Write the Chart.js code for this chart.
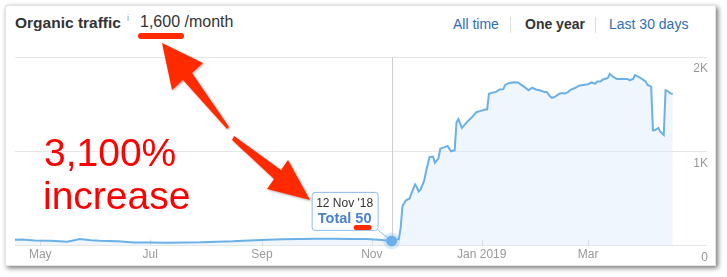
<!DOCTYPE html>
<html>
<head>
<meta charset="utf-8">
<script src="https://cdn.jsdelivr.net/npm/chart.js@4.4.1/dist/chart.umd.min.js"></script>
<style>
  body { margin: 0; width: 727px; height: 277px; background: #fff; overflow: hidden; position: relative;
         font-family: "Liberation Sans", Arial, Helvetica, sans-serif; }
  #card { position: absolute; left: 5px; top: 5px; width: 709px; height: 259px; background: #fff;
          border: 1px solid #e4e4e4; box-shadow: 2px 2px 5px rgba(0,0,0,.55); }
  #chart { position: absolute; left: 0; top: 0; }
  .hd { position: absolute; white-space: nowrap; color: #333; }
  .lnk { color: #2f6db5; font-size: 14px; }
  .sep { position: absolute; top: 17px; width: 1px; height: 16px; background: #ddd; }
  .big { position: absolute; color: #ff0000; font-size: 39px; line-height: 1; white-space: nowrap; }
  .mark { position: absolute; background: #ff2a00; border-radius: 3px; }
  svg { position: absolute; left: 0; top: 0; }
</style>
</head>
<body>
<div id="card"></div>

<div class="hd" style="left:15px;top:14px;font-size:15.5px;font-weight:bold;">Organic traffic</div>
<div class="hd" style="left:127px;top:13px;font-size:9px;color:#999;">i</div>
<div class="hd" style="left:140px;top:13px;font-size:16px;">1,600 /month</div>
<div class="mark" style="left:138px;top:33px;width:46px;height:6px;"></div>

<div class="hd lnk" style="left:453px;top:16px;">All time</div>
<div class="sep" style="left:510px;"></div>
<div class="hd" style="left:525px;top:16px;font-size:14px;font-weight:bold;">One year</div>
<div class="sep" style="left:595px;"></div>
<div class="hd lnk" style="left:609px;top:16px;">Last 30 days</div>

<canvas id="chart" width="727" height="277"></canvas>

<svg width="727" height="277">
  <defs>
    <filter id="sh" x="-20%" y="-20%" width="140%" height="140%">
      <feDropShadow dx="1" dy="1" stdDeviation="1" flood-color="#000" flood-opacity="0.35"/>
    </filter>
  </defs>
  <g fill="#ff2a00" filter="url(#sh)">
    <polygon points="162,43 203,63 192,73 229,127 227,129 183,80 172,90"/>
    <polygon points="310,200 288,160 281,170 234,136 232,140 274,179 267,189"/>
  </g>
</svg>

<div class="big" style="left:44px;top:133px;">3,100%</div>
<div class="big" style="left:43px;top:176px;">increase</div>

<script>
// Tagesdaten
const dates = [
  '2018-04-17','2018-04-21','2018-04-28','2018-05-07','2018-05-16','2018-05-23','2018-05-29',
  '2018-06-03','2018-06-13','2018-06-22','2018-07-01','2018-07-10','2018-07-20','2018-07-29',
  '2018-08-07','2018-08-16','2018-08-25','2018-09-04','2018-09-13','2018-09-22','2018-10-01',
  '2018-10-10','2018-10-20','2018-10-29','2018-11-05','2018-11-12','2018-11-16','2018-11-17',
  '2018-11-18','2018-11-20','2018-11-22','2018-11-23','2018-11-25','2018-11-26','2018-11-27',
  '2018-11-28','2018-11-30','2018-12-01','2018-12-03','2018-12-05','2018-12-06','2018-12-08',
  '2018-12-09','2018-12-11','2018-12-13','2018-12-15','2018-12-17','2018-12-18','2018-12-19',
  '2018-12-21','2018-12-22','2018-12-24','2018-12-25','2018-12-27','2018-12-29','2018-12-31',
  '2019-01-03','2019-01-04','2019-01-05','2019-01-07','2019-01-09','2019-01-11','2019-01-13',
  '2019-01-14','2019-01-16','2019-01-19','2019-01-21','2019-01-23','2019-01-25','2019-01-27',
  '2019-01-29','2019-01-31','2019-02-02','2019-02-05','2019-02-06','2019-02-08','2019-02-09',
  '2019-02-11','2019-02-13','2019-02-15','2019-02-16','2019-02-18','2019-02-19','2019-02-22',
  '2019-02-24','2019-02-26','2019-03-01','2019-03-03','2019-03-05','2019-03-06','2019-03-08',
  '2019-03-09','2019-03-12','2019-03-13','2019-03-15','2019-03-17','2019-03-20','2019-03-23',
  '2019-03-24','2019-03-26','2019-03-27','2019-03-29','2019-03-31','2019-04-01','2019-04-02',
  '2019-04-03','2019-04-05','2019-04-06','2019-04-07','2019-04-09','2019-04-10','2019-04-12',
  '2019-04-13','2019-04-14','2019-04-16','2019-04-17'
];
const traffic = [
  62, 65, 55, 52, 42, 70, 58,
  52, 45, 32, 32, 30, 32, 35,
  42, 46, 55, 62, 68, 70, 72,
  72, 70, 70, 62, 50, 70, 185,
  418, 481, 500, 555, 648, 618, 574,
  593, 685, 778, 937, 944, 878, 926,
  1026, 1041, 1056, 1000, 1011, 1307, 1341,
  1248, 1270, 1315, 1333, 1370, 1415, 1426,
  1444, 1444, 1611, 1622, 1630, 1656, 1659,
  1704, 1722, 1733, 1730, 1704, 1678, 1648,
  1674, 1656, 1648, 1630, 1630, 1582, 1567,
  1582, 1611, 1619, 1611, 1630, 1648, 1674,
  1696, 1704, 1711, 1730, 1715, 1741, 1741,
  1759, 1778, 1822, 1789, 1767, 1767, 1767,
  1752, 1767, 1807, 1789, 1767, 1752, 1741,
  1704, 1685, 1222, 1222, 1248, 1211, 1174,
  1648, 1641, 1611, 1611
];
const tickDates = ['2018-05-01', '2018-07-01', '2018-09-01', '2018-11-01', '2019-01-01', '2019-03-01'];
const tickLabels = ['May', 'Jul', 'Sep', 'Nov', 'Jan 2019', 'Mar'];
const yTicks = [0, 1000, 2000];
const yTickLabels = ['0', '1K', '2K'];
const xStart = '2018-04-17';
const xEnd = '2019-05-06';
const hoverDate = '2018-11-12';
const hoverLabel = "12 Nov '18";
const hoverValue = 50;

// Datum -> Tagnummer
function day(s) {
  const p = s.split('-');
  return Date.UTC(+p[0], +p[1] - 1, +p[2]) / 86400000;
}

const points = dates.map((d, i) => ({ x: day(d), y: traffic[i] }));
const lineBlue = '#6cb0e8';

// kleine Striche an den Monaten, crosshair und tooltip
const extras = {
  id: 'extras',
  beforeDatasetsDraw(chart) {
    const ctx = chart.ctx;
    const xs = chart.scales.x;
    const area = chart.chartArea;
    ctx.save();
    ctx.strokeStyle = '#d4d4d4';
    ctx.lineWidth = 1;
    tickDates.forEach(d => {
      const x = Math.round(xs.getPixelForValue(day(d))) + 0.5;
      ctx.beginPath();
      ctx.moveTo(x, area.bottom);
      ctx.lineTo(x, area.bottom - 6);
      ctx.stroke();
    });
    ctx.restore();
  },
  afterDatasetsDraw(chart) {
    const ctx = chart.ctx;
    const xs = chart.scales.x;
    const ys = chart.scales.y;
    const area = chart.chartArea;
    const px = xs.getPixelForValue(day(hoverDate));
    const py = ys.getPixelForValue(hoverValue);
    ctx.save();
    // crosshair
    ctx.strokeStyle = '#cfcfcf';
    ctx.lineWidth = 1;
    ctx.beginPath();
    ctx.moveTo(Math.round(px) + 0.5, area.top);
    ctx.lineTo(Math.round(px) + 0.5, area.bottom);
    ctx.stroke();

    // tooltip box
    const bw = 66, bh = 38;
    const bx = px - 14 - bw, by = py - 11 - bh;
    ctx.strokeStyle = '#8fbbea';
    ctx.beginPath();
    ctx.moveTo(bx + bw, by + bh);
    ctx.lineTo(px, py);
    ctx.stroke();

    ctx.fillStyle = '#fff';
    ctx.beginPath();
    ctx.roundRect(bx + 0.5, by + 0.5, bw, bh, 3);
    ctx.fill();
    ctx.stroke();

    ctx.textAlign = 'center';
    ctx.textBaseline = 'alphabetic';
    ctx.fillStyle = '#333';
    ctx.font = '12px "Liberation Sans", Arial, sans-serif';
    ctx.fillText(hoverLabel, bx + bw / 2, by + 15);
    ctx.fillStyle = '#4a80d0';
    ctx.font = 'bold 14.5px "Liberation Sans", Arial, sans-serif';
    ctx.fillText('Total ' + hoverValue, bx + bw / 2, by + 31);

    // rote Markierung unter dem Wert
    ctx.fillStyle = '#ff2a00';
    ctx.beginPath();
    ctx.roundRect(bx + 42, by + 33, 18, 5, 2.5);
    ctx.fill();

    // Punkt
    ctx.fillStyle = 'rgba(108,176,232,0.25)';
    ctx.beginPath();
    ctx.arc(px, py, 8.5, 0, Math.PI * 2);
    ctx.fill();
    ctx.fillStyle = lineBlue;
    ctx.beginPath();
    ctx.arc(px, py, 5.5, 0, Math.PI * 2);
    ctx.fill();
    ctx.restore();
  }
};

const chart = new Chart(document.getElementById('chart'), {
  type: 'line',
  data: {
    datasets: [{
      data: points,
      borderColor: lineBlue,
      borderWidth: 2,
      backgroundColor: 'rgba(222,236,250,0.45)',
      fill: 'origin',
      pointRadius: 0,
      tension: 0
    }]
  },
  options: {
    responsive: false,
    animation: false,
    events: [],
    layout: { padding: { left: 15, top: 57, right: 18, bottom: 13 } },
    plugins: { legend: { display: false }, tooltip: { enabled: false } },
    scales: {
      x: {
        type: 'linear',
        min: day(xStart),
        max: day(xEnd),
        afterBuildTicks(scale) {
          scale.ticks = tickDates.map(d => ({ value: day(d) }));
        },
        ticks: {
          autoSkip: false,
          maxRotation: 0,
          padding: 2,
          color: '#999',
          font: { size: 12, family: '"Liberation Sans", Arial, sans-serif' },
          callback(v) {
            const i = tickDates.findIndex(d => day(d) === v);
            return i >= 0 ? tickLabels[i] : '';
          }
        },
        grid: { display: false, drawTicks: false },
        border: { display: false }
      },
      y: {
        position: 'right',
        min: 0,
        max: 2000,
        afterBuildTicks(scale) {
          scale.ticks = yTicks.map(v => ({ value: v }));
        },
        ticks: {
          mirror: true,
          padding: 1,
          labelOffset: 12,
          color: '#999',
          font: { size: 12, family: '"Liberation Sans", Arial, sans-serif' },
          callback(v) {
            const i = yTicks.indexOf(v);
            return i >= 0 ? yTickLabels[i] : '';
          }
        },
        grid: { color: '#e6e6e6', drawTicks: false },
        border: { display: false }
      }
    }
  },
  plugins: [extras]
});
</script>
</body>
</html>
